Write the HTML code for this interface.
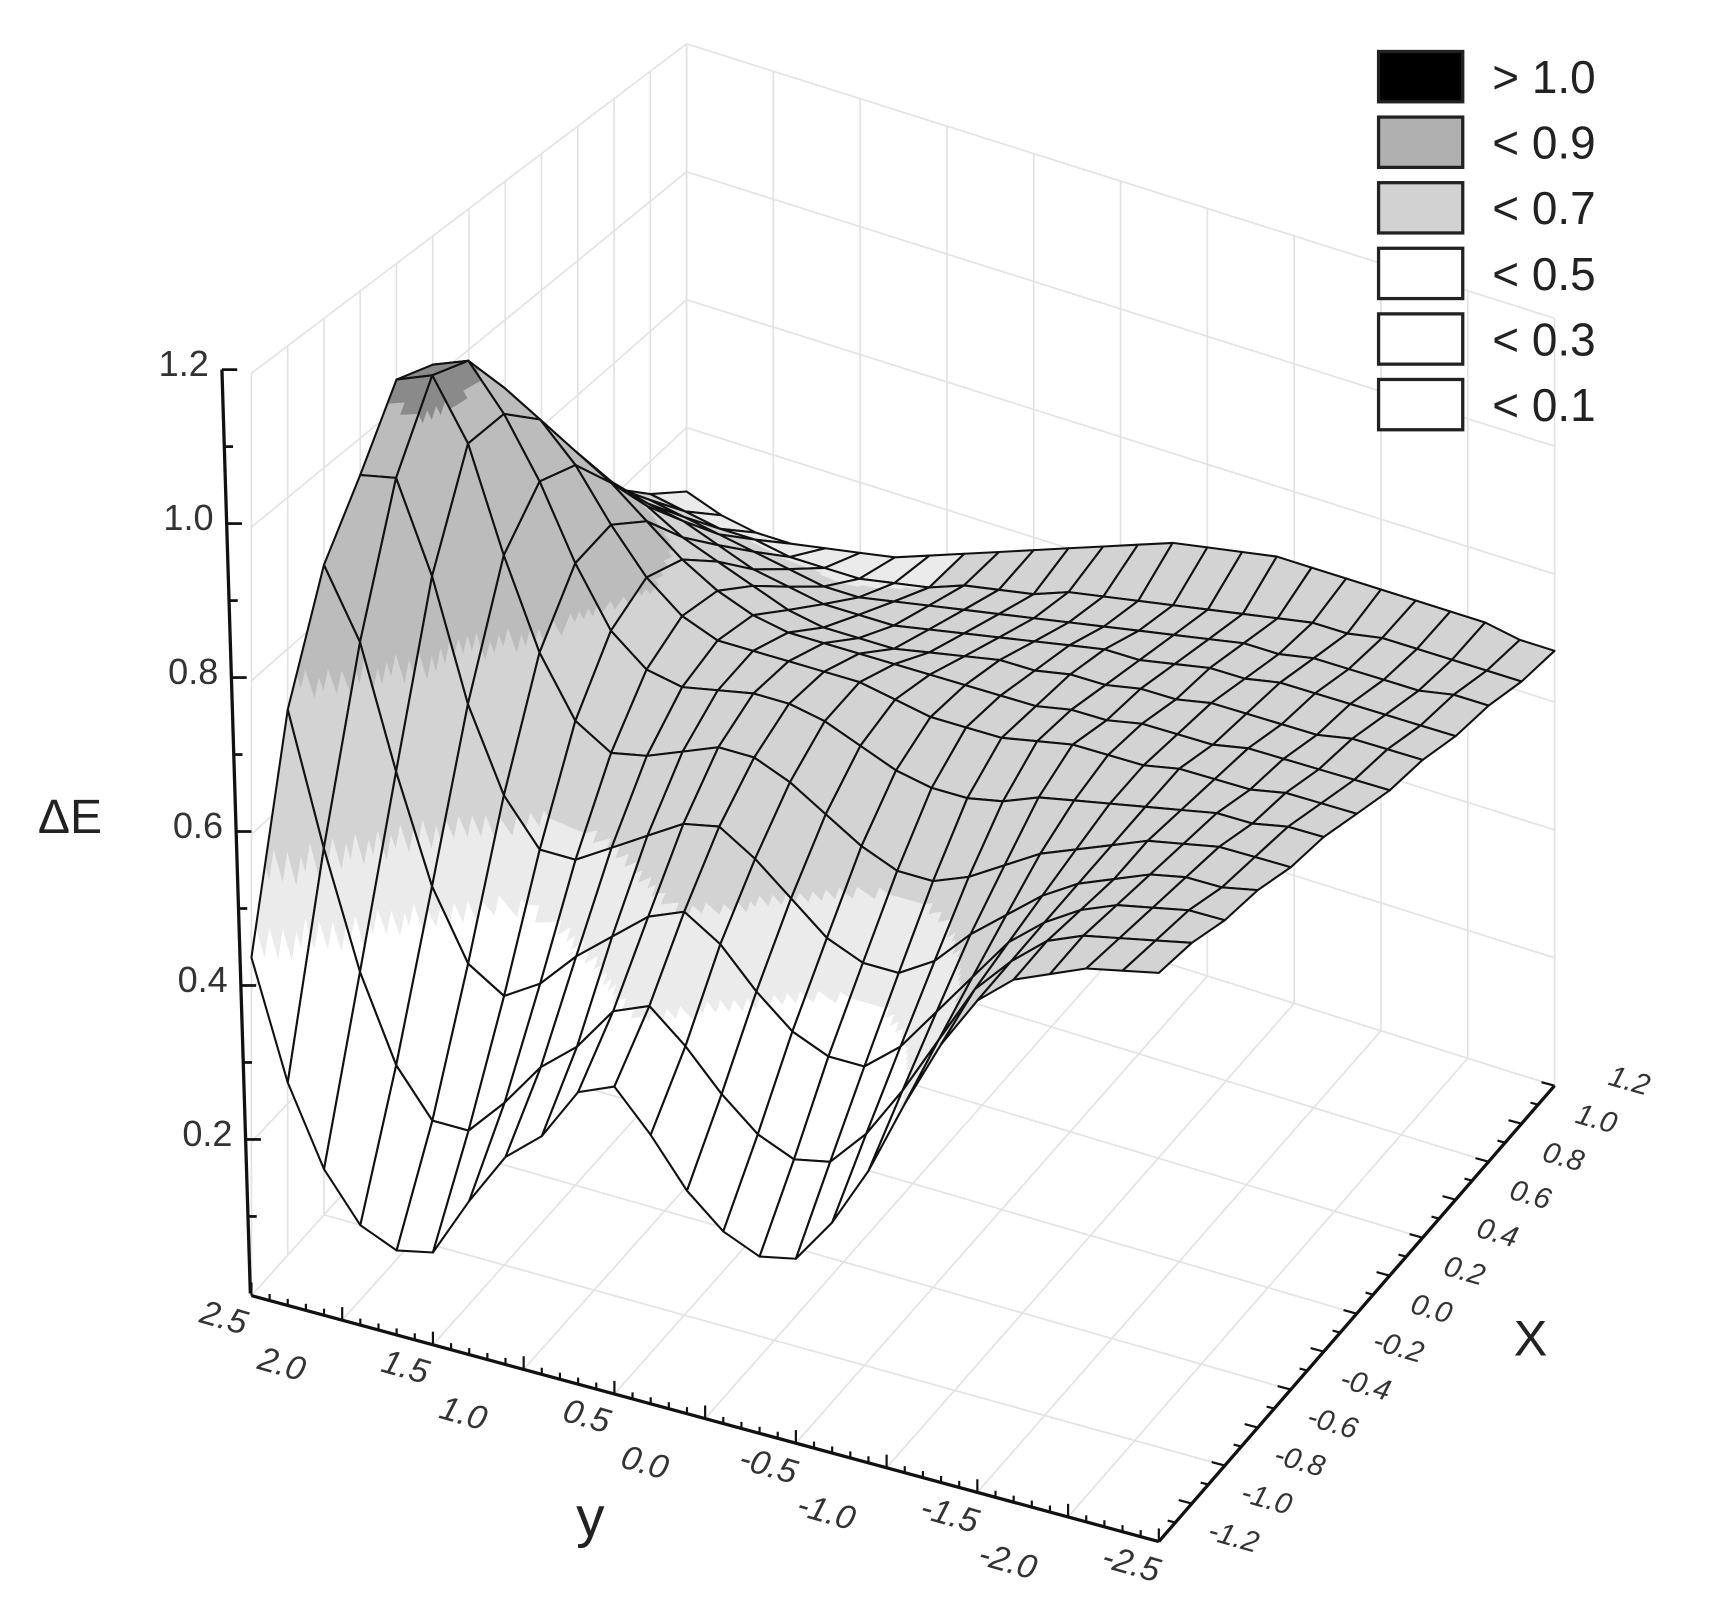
<!DOCTYPE html>
<html><head><meta charset="utf-8"><style>
html,body{margin:0;padding:0;background:#fff}
svg{display:block}
text{font-family:"Liberation Sans",Arial,sans-serif}
</style></head><body>
<svg id="chart" width="1712" height="1604" viewBox="0 0 1566 1467" xmlns="http://www.w3.org/2000/svg">
<g id="walls"></g>
<g id="surface"></g>
<g id="axes"></g>
<g id="legend"></g>
</svg>
<script>
// ---- data ----
const xVals = [-1.2,-1.0,-0.8,-0.6,-0.4,-0.2,0.0,0.2,0.4,0.6,0.8,1.0,1.2];
const yVals = [2.5,2.3,2.1,1.9,1.7,1.5,1.3,1.1,0.9,0.7,0.5,0.3,0.1,-0.1,-0.3,-0.5,-0.7,-0.9,-1.1,-1.3,-1.5,-1.7,-1.9,-2.1,-2.3,-2.5];
const rowXm12 = [.44,.29,.19,.13,.11,.12,.20,.27,.31,.38,.40,.35,.29,.25,.23,.24,.30,.38,.48,.57,.64,.68,.70,.72,.73,.74];
const rowXm10 = [.72,.55,.40,.29,.23,.23,.28,.34,.38,.44,.46,.42,.37,.33,.31,.32,.37,.44,.52,.60,.65,.69,.71,.72,.73,.74];
const rowXm08 = [.87,.78,.62,.48,.39,.36,.39,.44,.48,.52,.54,.51,.46,.42,.40,.40,.44,.50,.56,.62,.66,.69,.71,.72,.73,.73];
const rowXm06 = [.95,.96,.84,.68,.57,.51,.51,.54,.57,.60,.61,.58,.54,.50,.48,.48,.51,.56,.60,.64,.67,.69,.71,.72,.72,.73];
const rowXm04 = [1.04,1.06,.98,.84,.72,.64,.61,.62,.64,.66,.66,.64,.61,.58,.56,.56,.58,.61,.64,.66,.68,.70,.71,.72,.72,.72];
const rowXm02 = [1.02,1.04,.98,.90,.80,.72,.68,.67,.68,.69,.69,.68,.66,.64,.63,.63,.64,.66,.67,.68,.69,.70,.71,.71,.72,.72];
const rowX00 = [.94,.96,.93,.88,.81,.75,.71,.69,.69,.69,.69,.69,.68,.67,.67,.67,.68,.69,.69,.69,.70,.70,.70,.71,.71,.71];
const rowX02 = [.85,.86,.84,.81,.77,.73,.70,.68,.67,.67,.67,.67,.67,.67,.67,.67,.68,.68,.69,.69,.69,.70,.70,.70,.70,.70];
const rowX04 = [.76,.77,.75,.73,.70,.68,.66,.64,.63,.63,.63,.64,.65,.66,.66,.67,.67,.68,.68,.69,.69,.69,.69,.70,.70,.70];
const rowX06 = [.68,.68,.67,.66,.64,.62,.61,.60,.60,.60,.61,.62,.63,.64,.65,.66,.66,.67,.68,.68,.69,.69,.69,.69,.69,.69];
const rowX08 = [.61,.61,.60,.59,.58,.57,.56,.56,.57,.58,.59,.60,.61,.62,.63,.64,.65,.66,.67,.67,.68,.68,.68,.68,.69,.69];
const rowX10 = [.55,.54,.53,.53,.52,.52,.52,.53,.54,.56,.57,.58,.60,.61,.62,.63,.64,.65,.66,.67,.67,.68,.68,.68,.68,.68];
const rowX12 = [.50,.48,.47,.47,.48,.49,.50,.52,.54,.56,.58,.60,.62,.64,.66,.67,.68,.69,.69,.69,.69,.69,.69,.69,.68,.68];
const zGrid = [rowXm12,rowXm10,rowXm08,rowXm06,rowXm04,rowXm02,rowX00,rowX02,rowX04,rowX06,rowX08,rowX10,rowX12];
const zTicks = [0.2,0.4,0.6,0.8,1.0,1.2];
const zTickLabels = ["0.2","0.4","0.6","0.8","1.0","1.2"];
const yTicks = [2.5,2.0,1.5,1.0,0.5,0.0,-0.5,-1.0,-1.5,-2.0,-2.5];
const yTickLabels = ["2.5","2.0","1.5","1.0","0.5","0.0","-0.5","-1.0","-1.5","-2.0","-2.5"];
const xTicks = [1.2,1.0,0.8,0.6,0.4,0.2,0.0,-0.2,-0.4,-0.6,-0.8,-1.0,-1.2];
const xTickLabels = ["1.2","1.0","0.8","0.6","0.4","0.2","0.0","-0.2","-0.4","-0.6","-0.8","-1.0","-1.2"];
const legendLabels = ["> 1.0","< 0.9","< 0.7","< 0.5","< 0.3","< 0.1"];
const legendColors = ["#000000","#b0b0b0","#d2d2d2","#ffffff","#ffffff","#ffffff"];

// ---- projection ----
const FL=[230,1185], FR=[1060,1410], BR=[1422,993], BL=[628,742];
function proj(x,y,z){
  const s=(2.5-y)/5, t=(x+1.2)/2.4;
  const fx=FL[0]+(FR[0]-FL[0])*s, fy=FL[1]+(FR[1]-FL[1])*s;
  const bx=BL[0]+(BR[0]-BL[0])*s, by=BL[1]+(BR[1]-BL[1])*s;
  const px=fx+(bx-fx)*t, py=fy+(by-fy)*t;
  const zs=703-118*t;
  return [px, py-z*zs];
}
const NS="http://www.w3.org/2000/svg";
function mk(tag,attrs,parent){const e=document.createElementNS(NS,tag);for(const k in attrs)e.setAttribute(k,attrs[k]);parent.appendChild(e);return e;}
function pts(a){return a.map(p=>p[0].toFixed(1)+","+p[1].toFixed(1)).join(" ");}
function colorFor(z){
  if(z>1.02) return "#8a8a8a";
  if(z>0.74) return "#bcbcbc";
  if(z>0.54) return "#d3d3d3";
  if(z>0.45) return "#ebebeb";
  return "#ffffff";
}

// ---- walls ----
const walls=document.getElementById('walls');
const wc="#e2e2e2";
for(let y=2.5;y>=-2.5001;y-=0.5){const a=proj(-1.2,y,0),b=proj(1.2,y,0);
  const l=mk('line',{x1:a[0],y1:a[1],x2:b[0],y2:b[1],stroke:wc,'stroke-width':1.5},walls);
  
  }
for(let x=-1.2;x<=1.2001;x+=0.4){const a=proj(x,2.5,0),b=proj(x,-2.5,0);
  const l=mk('line',{x1:a[0],y1:a[1],x2:b[0],y2:b[1],stroke:wc,'stroke-width':1.5},walls);
  
  }
for(let x=-1.2;x<=1.2001;x+=0.2){const a=proj(x,2.5,0),b=proj(x,2.5,1.2);
  const l=mk('line',{x1:a[0],y1:a[1],x2:b[0],y2:b[1],stroke:wc,'stroke-width':1.5},walls);
  
  }
for(let z=0.2;z<=1.2001;z+=0.2){const a=proj(-1.2,2.5,z),b=proj(1.2,2.5,z);
  const l=mk('line',{x1:a[0],y1:a[1],x2:b[0],y2:b[1],stroke:wc,'stroke-width':1.5},walls);
  
  }
for(let y=2.5;y>=-2.5001;y-=0.5){const a=proj(1.2,y,0),b=proj(1.2,y,1.2);
  const l=mk('line',{x1:a[0],y1:a[1],x2:b[0],y2:b[1],stroke:wc,'stroke-width':1.5},walls);
  
  }
for(let z=0.2;z<=1.2001;z+=0.2){const a=proj(1.2,2.5,z),b=proj(1.2,-2.5,z);
  const l=mk('line',{x1:a[0],y1:a[1],x2:b[0],y2:b[1],stroke:wc,'stroke-width':1.5},walls);
  
  }

// ---- surface ----
const surf=document.getElementById('surface');
const SUB=8;
for(let i=xVals.length-1;i>=1;i--){
  for(let j=0;j<yVals.length-1;j++){
    const z1=zGrid[i][j], z2=zGrid[i][j+1], z3=zGrid[i-1][j+1], z4=zGrid[i-1][j];
    const xa=xVals[i], xb=xVals[i-1], ya=yVals[j], yb=yVals[j+1];
    const cell=mk('g',{},surf);
    
    
    const zAt=(u,v)=>z1*(1-u)*(1-v)+z2*v*(1-u)+z4*u*(1-v)+z3*u*v;
    const P=(u,v)=>proj(xa+(xb-xa)*u, ya+(yb-ya)*v, zAt(u,v));
    for(let a=SUB-1;a>=0;a--){
      for(let b=0;b<SUB;b++){
        const u0=a/SUB,u1=(a+1)/SUB,v0=b/SUB,v1=(b+1)/SUB;
        const c=colorFor(zAt((u0+u1)/2,(v0+v1)/2));
        const sp=mk('polygon',{points:pts([P(u0,v0),P(u0,v1),P(u1,v1),P(u1,v0)]),fill:c,stroke:c,'stroke-width':0.8},cell);
        
        
      }
    }
    const p=[proj(xa,ya,z1),proj(xa,yb,z2),proj(xb,yb,z3),proj(xb,ya,z4)];
    const q=mk('polygon',{points:pts(p),fill:'none',stroke:"#111",'stroke-width':1.9,'stroke-linejoin':'round'},cell);
    
    
  }
}

// ---- axes ----
const axes=document.getElementById('axes');
const zA=[203,338], zB=[229,1183];
function zAxisPt(z){const f=z/1.2;return [zB[0]+(zA[0]-zB[0])*f, zB[1]+(zA[1]-zB[1])*f];}
let zl=mk('line',{x1:zA[0],y1:zA[1],x2:zB[0],y2:zB[1],stroke:"#111",'stroke-width':3},axes);


for(let k=1;k<=12;k++){const p=zAxisPt(k/10);const len=(k%2===0)?14:8;
  const t=mk('line',{x1:p[0],y1:p[1],x2:p[0]+len,y2:p[1],stroke:"#111",'stroke-width':2.5},axes);
  
  }
zTicks.forEach((v,k)=>{const p=zAxisPt(v);
  const t=mk('text',{x:p[0]-12,y:p[1]+6,'text-anchor':'end','font-size':33,fill:'#333'},axes);
  t.textContent=zTickLabels[k];
  
  });
let zt=mk('text',{x:64,y:762,'text-anchor':'middle','font-size':44,fill:'#222'},axes);
zt.textContent="ΔE";



let a1=proj(-1.2,2.5,0), a2=proj(-1.2,-2.5,0);
let yl=mk('line',{x1:a1[0],y1:a1[1],x2:a2[0],y2:a2[1],stroke:"#111",'stroke-width':3},axes);


for(let k=0;k<=50;k++){const y=2.5-k*0.1;const p=proj(-1.2,y,0);const len=(k%5===0)?12:6;
  const t=mk('line',{x1:p[0],y1:p[1],x2:p[0],y2:p[1]-len,stroke:"#111",'stroke-width':2},axes);
  
  }
yTicks.forEach((v,k)=>{const p=proj(-1.2,v,0);const off=(k%2===0)?[-28,30]:[-58,50];
  const x=p[0]+off[0], y=p[1]+off[1];
  const t=mk('text',{x:x,y:y,'text-anchor':'middle','font-size':31,fill:'#333','font-style':'italic',transform:`rotate(16 ${x} ${y})`},axes);
  t.textContent=yTickLabels[k];
  
  });
let yt=mk('text',{x:540,y:1405,'text-anchor':'middle','font-size':52,fill:'#222'},axes);
yt.textContent="y";



let b1=proj(-1.2,-2.5,0), b2=proj(1.2,-2.5,0);
let xl=mk('line',{x1:b1[0],y1:b1[1],x2:b2[0],y2:b2[1],stroke:"#111",'stroke-width':3},axes);


for(let k=0;k<=24;k++){const x=-1.2+k*0.1;const p=proj(x,-2.5,0);const len=(k%2===0)?12:7;
  const t=mk('line',{x1:p[0],y1:p[1],x2:p[0]-len,y2:p[1]-len*0.27,stroke:"#111",'stroke-width':2},axes);
  
  }
xTicks.forEach((v,k)=>{const p=proj(v,-2.5,0);const x=p[0]+66, y=p[1]+4;
  const t=mk('text',{x:x,y:y,'text-anchor':'middle','font-size':27,fill:'#333','font-style':'italic',transform:`rotate(16 ${x} ${y})`},axes);
  t.textContent=xTickLabels[k];
  
  });
let xt=mk('text',{x:1400,y:1240,'text-anchor':'middle','font-size':46,fill:'#222'},axes);
xt.textContent="X";



// ---- legend ----
const leg=document.getElementById('legend');
legendLabels.forEach((lab,k)=>{
  const top=47+k*60;
  const r=mk('rect',{x:1261,y:top,width:77,height:46,fill:legendColors[k],stroke:'#222','stroke-width':3},leg);
  
  
  const t=mk('text',{x:1365,y:top+38,'font-size':42,fill:'#222'},leg);
  t.textContent=lab;
  
  
});
</script>
</body></html>
